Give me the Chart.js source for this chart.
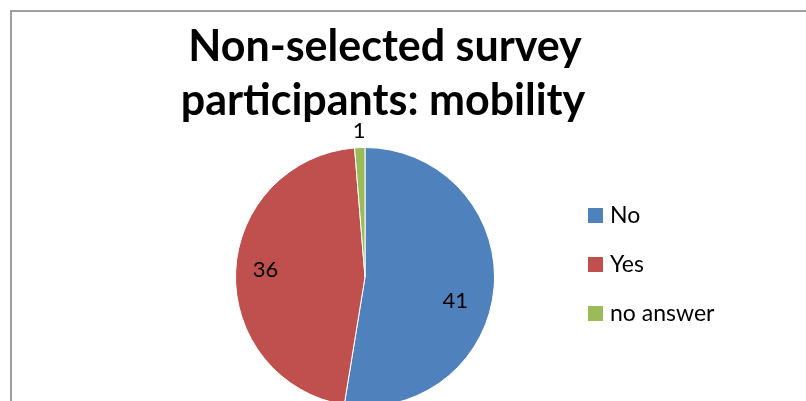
<!DOCTYPE html>
<html>
<head>
<meta charset="utf-8">
<script src="https://cdn.jsdelivr.net/npm/chart.js@4"></script>
<style>
  html, body { margin: 0; padding: 0; background: #fff; overflow: hidden; }
  #frame { position: absolute; left: 10px; top: 10px; width: 820px; height: 420px;
           border-left: 2px solid #a0a0a0; border-top: 2px solid #a0a0a0; }
  #wrap { position: absolute; left: 0; top: 0; }
</style>
</head>
<body>
<div id="frame"></div>
<div id="wrap"><canvas id="pie" width="806" height="430"></canvas></div>
<script>
// chart data
const titleLines = ['Non-selected survey', 'participants: mobility'];
const categories = ['No', 'Yes', 'no answer'];
const counts = [41, 36, 1];
const colours = ['#4f81bd', '#c0504d', '#9bbb59'];

// where each value label sits: fraction of radius, and a nudge in degrees off the slice middle
const labelDist = [0.72, 0.77, 1.13];
const labelTurn = [10, 2, 0];

const FONT = 'Lato, "Open Sans", sans-serif';

// title, legend and slice labels drawn by hand to follow the Excel layout
const excelBits = {
    id: 'excelBits',
    afterDatasetsDraw(chart) {
        const ctx = chart.ctx;
        ctx.save();
        ctx.fillStyle = '#000';
        ctx.textAlign = 'center';
        ctx.textBaseline = 'alphabetic';
        ctx.font = 'bold 43px ' + FONT;
        ctx.fillText(titleLines[0], 385, 61);
        ctx.fillText(titleLines[1], 383, 115);

        // value labels
        ctx.font = '22px ' + FONT;
        ctx.textBaseline = 'middle';
        const arcs = chart.getDatasetMeta(0).data;
        arcs.forEach((arc, i) => {
            const p = arc.getProps(['x', 'y', 'startAngle', 'endAngle', 'outerRadius']);
            const mid = (p.startAngle + p.endAngle) / 2 + labelTurn[i] * Math.PI / 180;
            const r = p.outerRadius * labelDist[i];
            ctx.fillText(String(counts[i]), p.x + Math.cos(mid) * r, p.y + Math.sin(mid) * r);
        });

        // legend
        ctx.textAlign = 'left';
        ctx.font = '23px ' + FONT;
        categories.forEach((c, i) => {
            const y = 215 + i * 49;
            ctx.fillStyle = colours[i];
            ctx.fillRect(588, y - 7, 15, 15);
            ctx.fillStyle = '#000';
            ctx.fillText(c, 610, y + 1);
        });
        ctx.restore();
    }
};

new Chart(document.getElementById('pie'), {
    type: 'pie',
    data: {
        labels: categories,
        datasets: [{
            data: counts,
            backgroundColor: colours,
            borderColor: '#ffffff',
            borderWidth: 1
        }]
    },
    options: {
        responsive: false,
        animation: false,
        layout: { padding: { left: 235, right: 311, top: 147, bottom: 23 } },
        plugins: {
            legend: { display: false },
            title: { display: false },
            tooltip: { enabled: false }
        }
    },
    plugins: [excelBits]
});
</script>
</body>
</html>
